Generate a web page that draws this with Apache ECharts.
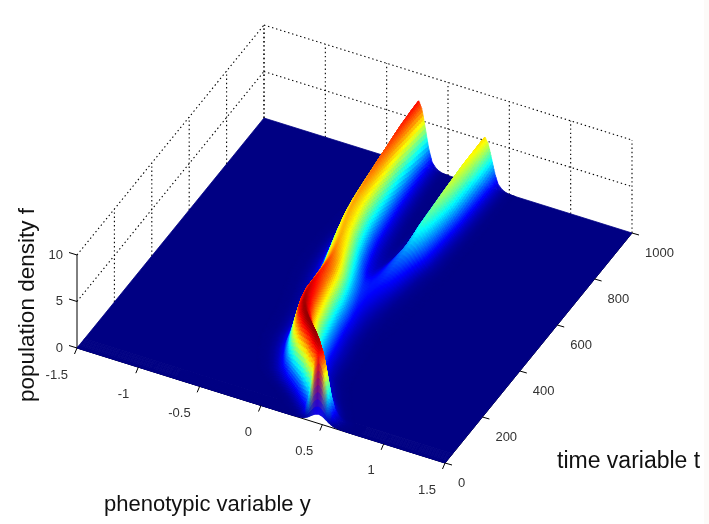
<!DOCTYPE html>
<html><head><meta charset="utf-8">
<style>html,body{margin:0;padding:0;background:#fff}#c{width:709px;height:524px}</style>
<script src="https://cdn.jsdelivr.net/npm/echarts@6/dist/echarts.min.js"></script>
</head><body><div id="c"></div>
<script>
// Values
const yTicks = [-1.5,-1,-0.5,0,0.5,1,1.5];
const tTicks = [0,200,400,600,800,1000];
const fTicks = [0,5,10];
const ridgeT  = [0,8,15,20,30,40,60,80,100,130,160,200,250,300,350,400,450,500,550,600,650,700,800,900,1000];
const ridge1Y = [.47,.46,.455,.45,.43,.40,.35,.29,.23,.16,.11,.07,.04,.02,0,-.03,-.07,-.11,-.15,-.18,-.20,-.21,-.225,-.235,-.24];
const ridge1F = [1,7,7.3,7.5,7.8,8,8.1,8.1,8.1,8,7.9,7.7,7.4,7,6.6,6.2,5.9,5.7,5.7,5.8,5.9,6.1,6.5,6.9,7.1];
const ridge1W = [.06,.055,.055,.06,.065,.065,.07,.075,.08,.085,.085,.09,.095,.095,.095,.095,.095,.095,.09,.085,.08,.075,.066,.06,.055];
const ridge2Y = [.1,.1,.1,.1,.1,.1,.1,.1,.1,.1,.1,.1,.1,.1,.12,.14,.16,.18,.20,.22,.25,.26,.28,.29,.30];
const ridge2F = [0,0,0,0,0,0,0,0,0,0,0,0,0,0,.2,.4,.7,1,1.4,1.9,2.7,3.5,4.5,5.1,5.4];
const ridge2W = [.1,.1,.1,.1,.1,.1,.1,.1,.1,.1,.1,.1,.1,.1,.1,.1,.09,.085,.08,.075,.07,.065,.06,.057,.055];
const profileD = [0,.5,.75,1,1.5,2,2.5,3,3.5,4.5];
const profileF = [1,.88,.75,.61,.32,.13,.06,.025,.008,0];
const jet = ['#000083','#0000ff','#007fff','#00ffff','#7fff7f','#ffff00','#ff7f00','#ff0000','#800000'];
const colorMax = 8.1;
const firstStep = 8;

// Oblique view of the box: floor corners and height scale
const O=[77,348], EY=[368,115], ET=[187,-230], FZ=9.3;
function view(y,t,f){const u=(y+1.5)/3,v=t/1000;return [O[0]+EY[0]*u+ET[0]*v, O[1]+EY[1]*u+ET[1]*v-FZ*f];}

function lerpTable(xs,ys,x){
  if(x<=xs[0])return ys[0];
  for(let i=1;i<xs.length;i++){ if(x<=xs[i]){const a=(x-xs[i-1])/(xs[i]-xs[i-1]);return ys[i-1]+a*(ys[i]-ys[i-1]);} }
  return ys[ys.length-1];
}
function slice(y,t){
  const c1=lerpTable(ridgeT,ridge1Y,t),h1=lerpTable(ridgeT,ridge1F,t),w1=lerpTable(ridgeT,ridge1W,t);
  const c2=lerpTable(ridgeT,ridge2Y,t),h2=lerpTable(ridgeT,ridge2F,t),w2=lerpTable(ridgeT,ridge2W,t);
  return h1*lerpTable(profileD,profileF,Math.abs(y-c1)/w1)+h2*lerpTable(profileD,profileF,Math.abs(y-c2)/w2);
}
function surf(y,t){
  if(t<firstStep){const a=t/firstStep;return slice(y,0)*(1-a)+slice(y,firstStep)*a;}
  return slice(y,t);
}
const rows=[];
for(let t=0;t<firstStep;t+=1)rows.push(t);
for(let t=firstStep;t<100;t+=4)rows.push(t);
for(let t=100;t<300;t+=5)rows.push(t);
for(let t=300;t<=1000;t+=10)rows.push(t);
const cols=[-1.5,-1.2,-.9,-.75];for(let i=0;i<=250;i++)cols.push(-.7+i*.006);cols.push(1,1.25,1.5);
function jetAt(f){return echarts.color.lerp(Math.min(1,f/colorMax),jet);}
const cells=[[-1.5,1.5,40,1000,0,0,0,0,0]];
const faceColor=[null];
for(let r=rows.length-2;r>=0;r--){
  for(let c=0;c<cols.length-1;c++){
    const y0=cols[c],y1=cols[c+1],t0=rows[r],t1=rows[r+1];
    const a=surf(y0,t0),b=surf(y1,t0),d=surf(y1,t1),e=surf(y0,t1);
    const avg=(a+b+d+e)/4;
    if(t0>=40&&Math.max(a,b,d,e)<.004)continue;
    cells.push([y0,y1,t0,t1,a,b,d,e,avg]);
    if(t0<firstStep){
      const ym=(y0+y1)/2,m=(t0+t1)/2/firstStep;
      faceColor.push(echarts.color.lerp(m,[jetAt(slice(ym,0)),jetAt(slice(ym,firstStep))]));
    } else faceColor.push(null);
  }
}
const lines=[];// [y0,t0,f0,y1,t1,f1,kind]
tTicks.forEach(t=>{ if(t>0)lines.push([-1.5,t,0,-1.5,t,10,0]); });
yTicks.forEach(y=>{ lines.push([y,1000,0,y,1000,10,0]); });
[5,10].forEach(f=>{ lines.push([-1.5,0,f,-1.5,1000,f,0]); lines.push([-1.5,1000,f,1.5,1000,f,0]); });
lines.push([-1.5,0,0,1.5,0,0,1]);lines.push([1.5,0,0,1.5,1000,0,1]);lines.push([-1.5,0,0,-1.5,0,10,1]);

const tickMarks=[];
yTicks.forEach(y=>tickMarks.push({p:[y,0,0],d:[-2.5,6],label:String(y),o:[-9,27],align:'right'}));
tTicks.forEach(t=>tickMarks.push({p:[1.5,t,0],d:[7,2],label:String(t),o:[13,20],align:'left'}));
fTicks.forEach(f=>tickMarks.push({p:[-1.5,0,f],d:[-8,-2.5],label:String(f),o:[-14,0],align:'right'}));

const chart=echarts.init(document.getElementById('c'),null,{renderer:'canvas'});
chart.setOption({
  animation:false,
  backgroundColor:'#fff',
  grid:{left:0,right:0,top:0,bottom:0},
  xAxis:{type:'value',min:0,max:709,show:false},
  yAxis:{type:'value',min:0,max:524,inverse:true,show:false},
  visualMap:{show:false,type:'continuous',seriesIndex:1,dimension:8,min:0,max:colorMax,inRange:{color:jet}},
  series:[
    {type:'custom',coordinateSystem:'cartesian2d',silent:true,clip:false,progressive:0,data:lines,z:1,
     renderItem(p,api){
       const a=api.coord(view(api.value(0),api.value(1),api.value(2))),b=api.coord(view(api.value(3),api.value(4),api.value(5)));
       const solid=api.value(6)===1;
       return {type:'line',shape:{x1:a[0],y1:a[1],x2:b[0],y2:b[1]},style:{stroke:'#000',lineWidth:solid?1:1.1,lineDash:solid?null:[1.4,2.8]}};
     }},
    {type:'custom',coordinateSystem:'cartesian2d',silent:true,clip:false,progressive:0,data:cells,z:2,
     renderItem(p,api){
       const y0=api.value(0),y1=api.value(1),t0=api.value(2),t1=api.value(3);
       const pts=[view(y0,t0,api.value(4)),view(y1,t0,api.value(5)),view(y1,t1,api.value(6)),view(y0,t1,api.value(7))].map(q=>api.coord(q));
       const col=faceColor[p.dataIndex]||api.visual('color');
       return {type:'polygon',shape:{points:pts},style:{fill:col,stroke:col,lineWidth:.8}};
     }},
    {type:'custom',coordinateSystem:'cartesian2d',silent:true,clip:false,progressive:0,z:3,
     data:tickMarks.map((m,i)=>[i,0]),
     renderItem(p,api){
       const m=tickMarks[api.value(0)],a=api.coord(view(m.p[0],m.p[1],m.p[2]));
       return {type:'group',children:[
         {type:'line',shape:{x1:a[0],y1:a[1],x2:a[0]+m.d[0],y2:a[1]+m.d[1]},style:{stroke:'#000',lineWidth:1}},
         {type:'text',x:a[0]+m.o[0],y:a[1]+m.o[1],style:{text:m.label,fill:'#333',font:'13px "Liberation Sans"',textAlign:m.align,textVerticalAlign:'middle'}}
       ]};
     }}
  ],
  graphic:[
    {type:'rect',shape:{x:704,y:0,width:5,height:524},style:{fill:'#fcfaf8'}},
    {type:'text',x:104,y:505,style:{text:'phenotypic variable y',fill:'#111',font:'22px "Liberation Sans"',textVerticalAlign:'middle'}},
    {type:'text',x:557,y:462,style:{text:'time variable t',fill:'#111',font:'23px "Liberation Sans"',textVerticalAlign:'middle'}},
    {type:'text',x:28,y:305,rotation:Math.PI/2,style:{text:'population density f',fill:'#111',font:'22.5px "Liberation Sans"',textAlign:'center',textVerticalAlign:'middle'}}
  ]
});
</script></body></html>
